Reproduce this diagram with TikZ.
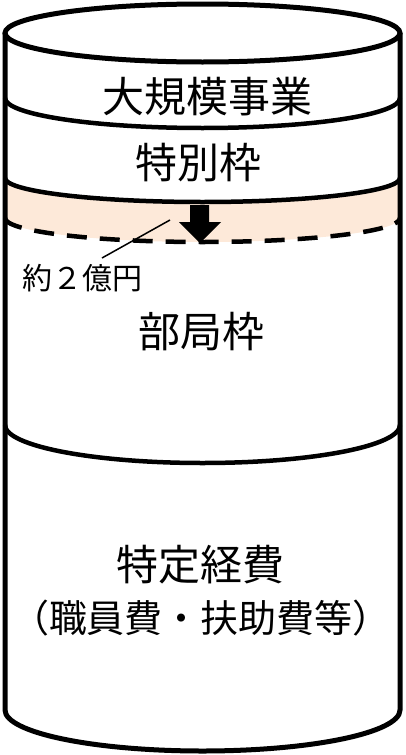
\documentclass[tikz,border=0pt]{standalone}
\usepackage{fontspec}
\setmainfont{Noto Sans CJK JP}
\definecolor{peach}{HTML}{FDE9D9}
\begin{document}
\begin{tikzpicture}[x=1pt,y=-1pt,
  big/.style={inner sep=0pt,font=\fontsize{42}{48}\selectfont},
  mid/.style={inner sep=0pt,font=\fontsize{38}{44}\selectfont},
  small/.style={inner sep=0pt,font=\fontsize{30}{36}\selectfont},
  outline/.style={line width=5pt},
  layer/.style={line width=4.5pt},
  dashline/.style={line width=4.5pt,dash pattern=on 20pt off 13pt}]
\useasboundingbox (0,0) rectangle (405,755);
% peach band
\fill[peach] (5,178) arc[start angle=180,end angle=0,x radius=197.5,y radius=24]
  -- (400,218) arc[start angle=0,end angle=180,x radius=197.5,y radius=24] -- cycle;
% cylinder body
\draw[outline] (5,33) -- (5,710) arc[start angle=180,end angle=0,x radius=197.5,y radius=41] -- (400,33);
\draw[outline] (202.5,33) ellipse[x radius=197.5,y radius=29];
% layer lines
\draw[layer] (5,98) arc[start angle=180,end angle=0,x radius=197.5,y radius=30];
\draw[layer] (5,178) arc[start angle=180,end angle=0,x radius=197.5,y radius=24];
\draw[dashline] (5,218) arc[start angle=180,end angle=0,x radius=197.5,y radius=24];
\draw[layer] (5,425) arc[start angle=180,end angle=0,x radius=197.5,y radius=38];
% arrow
\fill (190,205) -- (209,205) -- (209,222) -- (221,222) -- (200,243) -- (179,222) -- (190,222) -- cycle;
% labels
\node[big] (t1) at (207,97) {大規模事業};
\node[big] (t2) at (198,163) {特別枠};
\node[small] (amt) at (83,278) {約２億円};
\node[big] (t3) at (201,332) {部局枠};
\node[big] (t4) at (200,565) {特定経費};
\node[mid] (t5) at (201,618) {（職員費・扶助費等）};
% leader
\coordinate (leadA) at (102,258);
\coordinate (leadB) at (170,220);
\draw[line width=1.5pt] (leadA) -- (leadB);
\end{tikzpicture}
\end{document}
